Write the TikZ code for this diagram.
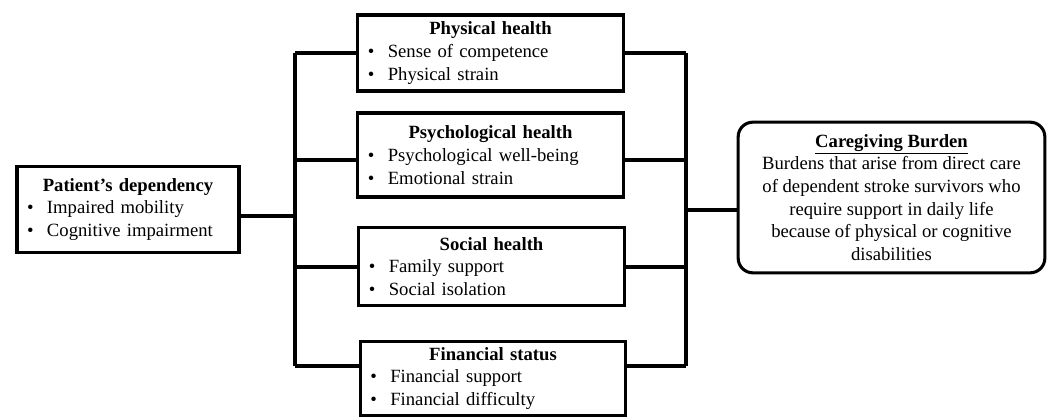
\documentclass[tikz,border=0pt]{standalone}
\usepackage{fontspec}
\setmainfont{Liberation Serif}
\newcommand{\itm}[1]{\makebox[15pt][l]{\textbullet}#1}
\newcommand{\ttl}[1]{\makebox[\hsize]{\textbf{#1}}}
\begin{document}
\begin{tikzpicture}[x=0.75pt,y=-0.75pt,line width=2.3pt,
        factor/.style={draw,line width=2.3pt,minimum width=199pt,text width=184pt,inner xsep=7.5pt,align=left,font=\fontsize{14}{17}\selectfont},
        burden/.style={draw,line width=2.3pt,rounded corners=11pt,minimum width=230pt,minimum height=113pt,align=center,font=\fontsize{14}{17}\selectfont}]
                \useasboundingbox (0,0) rectangle (1048,417);
                \node[factor,minimum width=166.5pt,text width=151.5pt,minimum height=64pt] (patient) at (128,209.5) {\ttl{Patient's dependency}\\\itm{Impaired mobility}\\\itm{Cognitive impairment}};
                \node[factor,minimum height=57pt] (physical) at (490.5,53) {\ttl{Physical health}\\\itm{Sense of competence}\\\itm{Physical strain}};
                \node[factor,minimum height=63pt] (psych) at (490.5,155) {\ttl{Psychological health}\\\itm{Psychological well-being}\\\itm{Emotional strain}};
                \node[factor,minimum height=58pt] (social) at (491.5,266.5) {\ttl{Social health}\\\itm{Family support}\\\itm{Social isolation}};
                \node[factor,minimum height=55.5pt] (financial) at (493,378.5) {\ttl{Financial status}\\\itm{Financial support}\\\itm{Financial difficulty}};
                \node[burden] (burden) at (891.5,197.5) {\underline{\textbf{Caregiving Burden}}\\Burdens that arise from direct care\\of dependent stroke survivors who\\require support in daily life\\because of physical or cognitive\\disabilities};
                \coordinate (lbus) at (295,216);
                \coordinate (l1) at (295,53);
                \coordinate (l2) at (295,160);
                \coordinate (l3) at (295,267);
                \coordinate (l4) at (295,366);
                \coordinate (rbus) at (686,210);
                \coordinate (r1) at (686,53);
                \coordinate (r4) at (686,366);
                \draw (l1) -- (l4);
                \draw (r1) -- (r4);
                \draw (patient.east |- lbus) -- (lbus);
                \draw (l1) -- (l1 -| physical.west);
                \draw (l2) -- (l2 -| psych.west);
                \draw (l3) -- (l3 -| social.west);
                \draw (l4) -- (l4 -| financial.west);
                \draw (r1) -- (r1 -| physical.east);
                \draw (rbus |- l2) -- (l2 -| psych.east);
                \draw (rbus |- l3) -- (l3 -| social.east);
                \draw (r4) -- (l4 -| financial.east);
                \draw (rbus) -- (rbus -| burden.west);
            \end{tikzpicture}
\end{document}
